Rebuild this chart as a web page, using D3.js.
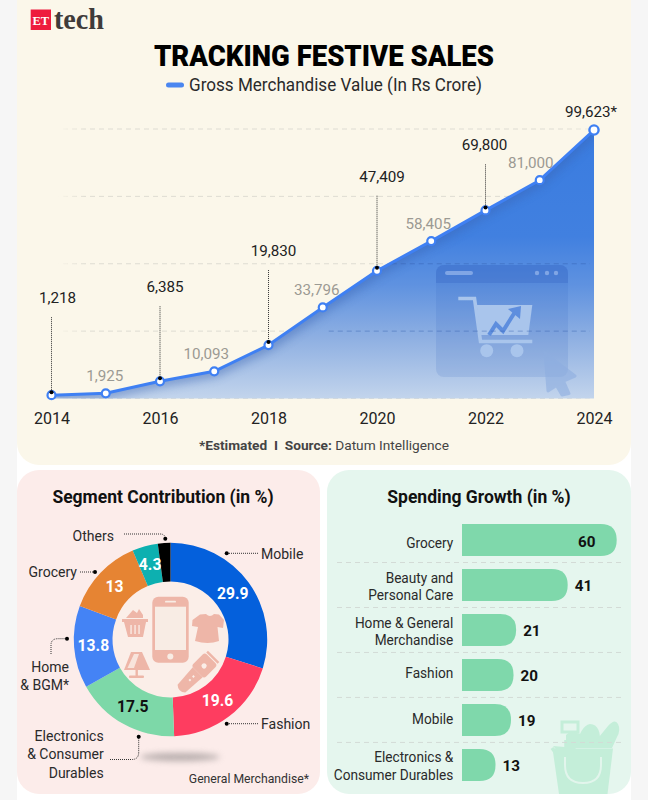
<!DOCTYPE html>
<html><head><meta charset="utf-8">
<script src="https://cdn.jsdelivr.net/npm/d3@7"></script>
<style>
html,body{margin:0;padding:0;background:#fff}
svg{display:block}
text{font-family:Roboto,"Noto Sans",sans-serif}
</style></head><body>
<svg id="c" width="648" height="800"></svg>
<script>
// ---------- data ----------
const years = [2014,2015,2016,2017,2018,2019,2020,2021,2022,2023,2024];
const gmv = [1218,1925,6385,10093,19830,33796,47409,58405,69800,81000,99623];
const gmvLabels = ["1,218","1,925","6,385","10,093","19,830","33,796","47,409","58,405","69,800","81,000","99,623*"];
const gridTicks = [0,25000,50000,75000,100000];
const yearTicks = [2014,2016,2018,2020,2022,2024];

const segments = ["Mobile","Fashion","Electronics & Consumer Durables","Home & BGM*","Grocery","Others","Unlabelled"];
const segmentValues = [29.9,19.6,17.5,13.8,13,4.3,2.1];
const segmentValueLabels = ["29.9","19.6","17.5","13.8","13","4.3",""];

const growthCategories = ["Grocery","Beauty and|Personal Care","Home & General|Merchandise","Fashion","Mobile","Electronics &|Consumer Durables"];
const growthValues = [60,41,21,20,19,13];

// ---------- layout / style (not data) ----------
const segmentColors = ["#0460dc","#fe3d60","#7dd8a8","#4483f5","#e68433","#0db0b0","#000000"];
const segmentTextColors = ["#fff","#fff","#111","#fff","#fff","#fff","#fff"];
const lift = [92,0,89,0,89,0,89,0,60,0,13];
const greyLift = 12;
const labelNudge = [6,-1,5,-8,5,-6,5,-3,-1,-9,-3];
const singleLineNudge = [7.5,0,0,3.5,4,0];

const svg = d3.select("#c");
const defs = svg.append("defs");
const blur = (id,s)=>defs.append("filter").attr("id",id).attr("x","-30%").attr("y","-100%").attr("width","160%").attr("height","300%")
  .append("feGaussianBlur").attr("stdDeviation",s);
blur("b5",5);blur("b3",3);

// page backgrounds
svg.append("rect").attr("width",17).attr("height",800).attr("fill","#f6f6f6");
svg.append("rect").attr("x",631).attr("width",17).attr("height",800).attr("fill","#f6f6f6");
svg.append("rect").attr("x",17).attr("y",-30).attr("width",614).attr("height",495).attr("rx",22).attr("fill","#fbf7ea");
svg.append("rect").attr("x",17).attr("y",470).attr("width",303).attr("height",324).attr("rx",22).attr("fill","#fcecea");
svg.append("rect").attr("x",327).attr("y",470).attr("width",304).attr("height",324).attr("rx",22).attr("fill","#e5f6ee");

function sq(sel,f){sel.each(function(){const n=this;n.setAttribute("textLength",n.getComputedTextLength()*f);n.setAttribute("lengthAdjust","spacingAndGlyphs");});return sel;}
function txt(x,y,s,size,o={}){
  const t=svg.append("text").attr("x",x).attr("y",y).attr("font-size",size).attr("fill",o.fill||"#2a2a2a")
    .attr("font-weight",o.w||400).attr("text-anchor",o.a||"start").text(s);
  if(o.ff)t.style("font-family",o.ff);
  sq(t,o.sq||0.905);return t;
}

// logo
svg.append("rect").attr("x",30.7).attr("y",9.5).attr("width",20.3).attr("height",20.5).attr("fill","#ee1c3e");
txt(40.8,25,"ET",12.5,{fill:"#fff",w:700,a:"middle",ff:"'Liberation Serif',serif",sq:1});
svg.append("text").attr("x",54).attr("y",29).attr("font-size",29).attr("font-weight",700).attr("fill","#3f3b3a")
  .style("font-family","'Liberation Serif',serif").attr("textLength",50).attr("lengthAdjust","spacingAndGlyphs").text("tech");

// title + legend
svg.append("text").attr("x",324).attr("y",66).attr("text-anchor","middle").attr("font-size",30).attr("font-weight",900)
  .attr("fill","#000").attr("textLength",340).attr("lengthAdjust","spacingAndGlyphs").text("TRACKING FESTIVE SALES");
svg.append("line").attr("x1",168.5).attr("x2",181.5).attr("y1",85).attr("y2",85).attr("stroke","#4a86f0").attr("stroke-width",5).attr("stroke-linecap","round");
svg.append("text").attr("x",189).attr("y",91).attr("font-size",18.5).attr("fill","#2a2a2a").attr("textLength",293).attr("lengthAdjust","spacingAndGlyphs").text("Gross Merchandise Value (In Rs Crore)");

// ---------- area chart ----------
const x = d3.scaleLinear().domain([2014,2024]).range([51.5,594]);
const y = d3.scaleLinear().domain([0,100000]).range([398.5,129]);
const pts = years.map((yr,i)=>({yr,v:gmv[i],label:gmvLabels[i],i}));

const grad = defs.append("linearGradient").attr("id","ag").attr("gradientUnits","userSpaceOnUse").attr("x1",0).attr("x2",0).attr("y1",129).attr("y2",398);
[[0,"#3a7ce0"],[0.4,"#4180e0"],[0.58,"#5f92e0"],[0.78,"#8fb0e2"],[1,"#c2d4ec"]].forEach(s=>grad.append("stop").attr("offset",s[0]).attr("stop-color",s[1]));
const area = d3.area().x(d=>x(d.yr)).y0(y(0)).y1(d=>y(d.v));
const line = d3.line().x(d=>x(d.yr)).y(d=>y(d.v));
defs.append("clipPath").attr("id","ac").append("path").attr("d",area(pts));
const gridFade = defs.append("linearGradient").attr("id","gf").attr("gradientUnits","userSpaceOnUse").attr("x1",58).attr("x2",590).attr("y1",0).attr("y2",0);
[[0,"#dedcd2",0],[0.05,"#dedcd2",1],[0.95,"#dedcd2",1],[1,"#dedcd2",.4]].forEach(s=>gridFade.append("stop").attr("offset",s[0]).attr("stop-color",s[1]).attr("stop-opacity",s[2]));

// grid (drawn as thin rects so the gradient applies on a horizontal line)
svg.append("g").selectAll("rect").data(gridTicks).join("rect")
  .attr("x",58).attr("width",532).attr("y",d=>y(d)-.5).attr("height",1)
  .attr("fill","url(#gf)").attr("mask","url(#dash)");
const mask=defs.append("mask").attr("id","dash").attr("maskUnits","userSpaceOnUse").attr("x",0).attr("y",0).attr("width",648).attr("height",500);
const dashPat=defs.append("pattern").attr("id","dp").attr("patternUnits","userSpaceOnUse").attr("width",9).attr("height",10);
dashPat.append("rect").attr("width",5).attr("height",10).attr("fill","#fff");
mask.append("rect").attr("width",648).attr("height",500).attr("fill","url(#dp)");

svg.append("path").attr("d",area(pts)).attr("fill","url(#ag)");
svg.append("path").attr("d",line(pts)).attr("fill","none").attr("stroke","#3a64b0").attr("stroke-width",12).attr("opacity",.45).attr("filter","url(#b5)").attr("clip-path","url(#ac)");

// watermark
const wm = svg.append("g");
wm.append("rect").attr("x",436).attr("y",265).attr("width",132).attr("height",112).attr("rx",8).attr("fill","#2f62c0").attr("opacity",.14);
wm.append("path").attr("d","M436 283V273a8 8 0 0 1 8-8h116a8 8 0 0 1 8 8v10z").attr("fill","#2f5fc0").attr("opacity",.28);
wm.append("rect").attr("x",445).attr("y",271).attr("width",28).attr("height",4).attr("rx",2).attr("fill","#8fb0ea").attr("opacity",.8);
[537,547,556].forEach(cx=>wm.append("circle").attr("cx",cx).attr("cy",273).attr("r",2.2).attr("fill","#8fb0ea").attr("opacity",.8));
const cartC="#a9c5ec";
wm.append("path").attr("d","M458.3 298.5H474.5L480.5 341.5H532.3").attr("fill","none").attr("stroke",cartC).attr("stroke-width",3.6);
wm.append("path").attr("d","M476.7 305H532.3L528.3 335H480.5z").attr("fill",cartC);
wm.append("circle").attr("cx",486.7).attr("cy",350.7).attr("r",6.5).attr("fill",cartC);
wm.append("circle").attr("cx",517).attr("cy",350.7).attr("r",6.5).attr("fill",cartC);
wm.append("path").attr("d","M489 335L496 324L503 331L515 312").attr("fill","none").attr("stroke","#5e8ede").attr("stroke-width",4);
wm.append("path").attr("d","M508 309L521 306L520 319z").attr("fill","#5e8ede");
wm.append("path").attr("d","M545 353L575 376L563.5 381L569 393.5L562 395L556.5 385.5L548 391z").attr("fill","#8eaee0").attr("stroke","#8eaee0").attr("stroke-width",3).attr("stroke-linejoin","round").attr("opacity",.6);
// grid faint over the area
svg.append("g").selectAll("line").data(gridTicks.slice(1,3)).join("line")
  .attr("x1",x(2019)+6).attr("x2",590).attr("y1",d=>y(d)).attr("y2",d=>y(d))
  .attr("stroke","#2f58a8").attr("stroke-opacity",.4).attr("stroke-dasharray","5 4").attr("clip-path","url(#ac)");

// line + leaders
svg.append("path").attr("d",line(pts)).attr("fill","none").attr("stroke","#3f80f3").attr("stroke-width",3).attr("stroke-linejoin","round");
const major = pts.filter(d=>lift[d.i]>0 && d.i<10);
svg.append("g").selectAll("line").data(major).join("line")
  .attr("x1",d=>x(d.yr)).attr("x2",d=>x(d.yr)).attr("y1",d=>y(d.v)-lift[d.i]+14).attr("y2",d=>y(d.v)-3)
  .attr("stroke","#333").attr("stroke-width",1).attr("stroke-dasharray","1 1");
svg.append("g").selectAll("circle").data(pts).join("circle")
  .attr("cx",d=>x(d.yr)).attr("cy",d=>y(d.v)).attr("r",d=>d.i===10?4.6:4)
  .attr("fill","#fff").attr("stroke","#3f80f3").attr("stroke-width",d=>d.i===10?2.4:2.2);
svg.append("g").selectAll("circle").data(major).join("circle")
  .attr("cx",d=>x(d.yr)).attr("cy",d=>y(d.v)-3).attr("r",2).attr("fill","#000");

// value labels
pts.forEach(d=>{
  const isMajor=lift[d.i]>0;
  txt(x(d.yr)+labelNudge[d.i],y(d.v)-(isMajor?lift[d.i]:greyLift),d.label,15.5,{a:"middle",fill:isMajor?"#222":"#9b9a93",sq:.98});
});

// x axis
const ax = svg.append("g").attr("transform","translate(0,410)").call(d3.axisBottom(x).tickValues(yearTicks).tickFormat(d3.format("d")).tickSize(0).tickPadding(3));
ax.select(".domain").remove();
ax.selectAll("text").attr("font-size",16).attr("fill","#222").style("font-family","Roboto,sans-serif");

// footer
const ft=svg.append("text").attr("x",324).attr("y",450).attr("text-anchor","middle").attr("font-size",13.5).attr("fill","#444").attr("textLength",250).attr("lengthAdjust","spacingAndGlyphs");
ft.append("tspan").attr("font-weight",700).text("*Estimated\u00a0\u00a0I\u00a0\u00a0Source: ");
ft.append("tspan").text("Datum Intelligence");

// ---------- donut ----------
txt(163,503,"Segment Contribution (in %)",17.5,{a:"middle",w:700,fill:"#111",sq:1});
svg.append("ellipse").attr("cx",180).attr("cy",757).attr("rx",40).attr("ry",4).attr("fill","#8a8484").attr("opacity",.6).attr("filter","url(#b3)");
const pie=d3.pie().sort(null).value(d=>d)(segmentValues);
const arc=d3.arc().innerRadius(58).outerRadius(96.7);
const dg=svg.append("g").attr("transform","translate(170.5,639.5)");
dg.append("circle").attr("r",58).attr("fill","#fbeee8");
dg.selectAll("path").data(pie).join("path").attr("d",arc).attr("fill",(d,i)=>segmentColors[i]);
pie.forEach((d,i)=>{
  const c=arc.centroid(d);
  if(segmentValueLabels[i]) txt(170.5+c[0],639.5+c[1]+5.5,segmentValueLabels[i],16,{a:"middle",w:700,fill:segmentTextColors[i],sq:.98});
});

// donut icons
const ic="#eeb6a8", ib=svg.append("g");
ib.append("rect").attr("x",152.3).attr("y",596.7).attr("width",36.4).attr("height",66).attr("rx",6).attr("fill",ic);
ib.append("rect").attr("x",155).attr("y",606.7).attr("width",31).attr("height",43.3).attr("fill","#f8ece4");
ib.append("rect").attr("x",165).attr("y",600.8).attr("width",11).attr("height",1.8).attr("rx",.9).attr("fill","#f8ece4");
ib.append("circle").attr("cx",170.3).attr("cy",656.5).attr("r",3).attr("fill","#f8ece4");
ib.append("path").attr("d","M200 614.5L206 614Q210 618 214 614L219 614.5L224 620L223 628L217.5 627L219 641Q208 645 195 641L198 627L192 626L192.5 620z").attr("fill",ic); // shirt
ib.append("path").attr("d","M124 622H146L143 637H128z").attr("fill",ic); // basket
ib.append("path").attr("d","M122 619H148V622H122z M126 618L133 610L137 613L139 609L143 615L143 618z").attr("fill",ic);
[131,135,139].forEach(px=>ib.append("rect").attr("x",px-.6).attr("y",625).attr("width",1.3).attr("height",9).attr("fill","#fbeee8"));
ib.append("path").attr("d","M131 652H142L150 670H124z").attr("fill",ic); // lamp
ib.append("path").attr("d","M134 654H139L134 668H127.5z").attr("fill","#f8e4dc");
ib.append("rect").attr("x",135.5).attr("y",670).attr("width",2.4).attr("height",6).attr("fill",ic);
ib.append("rect").attr("x",129).attr("y",675.5).attr("width",15).attr("height",2.4).attr("rx",1).attr("fill",ic);
ib.append("g").attr("transform","translate(197,673) rotate(45)").call(g=>{ // trimmer
  g.append("rect").attr("x",-9).attr("y",-20).attr("width",18).attr("height",19).attr("rx",3).attr("fill",ic);
  g.append("path").attr("d","M-7 -1H7L5.5 22Q0 27 -5.5 22z").attr("fill",ic);
  g.append("circle").attr("cy",-10).attr("r",2.6).attr("fill","#fbeee8");
  g.append("rect").attr("x",-8).attr("y",-23.5).attr("width",16).attr("height",2.4).attr("fill",ic);
  g.append("rect").attr("x",-1).attr("y",4).attr("width",2).attr("height",2).attr("fill","#fbeee8");
  g.append("rect").attr("x",-1).attr("y",9).attr("width",2).attr("height",2).attr("fill","#fbeee8");
});

// donut labels + leaders
const leader=(d)=>svg.append("path").attr("d",d).attr("fill","none").attr("stroke","#333").attr("stroke-width",1).attr("stroke-dasharray","1 1");
const dot=(cx,cy)=>svg.append("circle").attr("cx",cx).attr("cy",cy).attr("r",2).attr("fill","#000");
txt(261,558.7,"Mobile",15.5,{}); leader("M227 553.3H258"); dot(226.7,553.3);
txt(261,728.7,"Fashion",15.5,{}); leader("M227 723.7H258"); dot(226.7,723.7);
txt(114,541,"Others",15.5,{a:"end"}); leader("M124 534H160Q165 534 165 538"); dot(165.3,538.7);
txt(77,576.7,"Grocery",15.5,{a:"end"}); leader("M80 572H95"); dot(95,572);
txt(69,672,"Home",15.5,{a:"end"}); txt(69,690,"& BGM*",15.5,{a:"end"}); leader("M51 654V645Q51 638.7 58 638.7H67"); dot(67,638.7);
txt(103.7,740.7,"Electronics",15.5,{a:"end"}); txt(103.7,759,"& Consumer",15.5,{a:"end"}); txt(103.7,777.7,"Durables",15.5,{a:"end"});
leader("M110 759.5H132Q138.7 759.5 138.7 752V737"); dot(138.7,736.7);
txt(309,782.7,"General Merchandise*",13.5,{a:"end",fill:"#333"});

// ---------- bars ----------
txt(479,503,"Spending Growth (in %)",17.5,{a:"middle",w:700,fill:"#111",sq:1});
const bx=d3.scaleLinear().domain([0,60]).range([462,616.7]);
const by=d3.scaleBand().domain(growthCategories).range([524,781]).paddingInner(.286);
const seps=growthCategories.slice(0,-1);

// bag watermark (behind)
const bag=svg.append("g"), bc="#c4eed9";
bag.append("path").attr("d","M552 748L561 760M566 740V752").attr("stroke",bc).attr("stroke-width",3.5);
bag.append("path").attr("d","M553 746L576 748L566 760z").attr("fill",bc);
bag.append("path").attr("d","M562 722H578V732H562z").attr("fill","none").attr("stroke",bc).attr("stroke-width",3);
bag.append("path").attr("d","M566 748V735Q570 730 577 733L585 735V748z").attr("fill",bc);
bag.append("path").attr("d","M576 748Q580 726 590 724Q602 724 600 748z").attr("fill",bc);
bag.append("path").attr("d","M590 748L608 726Q615 718 618 724Q621 730 617 737L612 748z").attr("fill",bc);
bag.append("path").attr("d","M552.5 748.5H613L607.5 794H559z").attr("fill",bc);
bag.append("path").attr("d","M565 757V765Q565 783 583 783Q601 783 601 765V757").attr("fill","none").attr("stroke","#e2f5ec").attr("stroke-width",2);

svg.append("g").selectAll("line").data(seps).join("line")
  .attr("x1",337).attr("x2",622).attr("y1",d=>by(d)+by.bandwidth()+6.4).attr("y2",d=>by(d)+by.bandwidth()+6.4)
  .attr("stroke","#d3dbd6").attr("stroke-dasharray","5 4");
const rr=16;
svg.append("g").selectAll("path").data(growthValues).join("path")
  .attr("fill","#7fd8ab")
  .attr("d",(v,i)=>{const t=by(growthCategories[i]),h=by.bandwidth(),r=bx(v);
    return `M${bx(0)} ${t}H${r-rr}Q${r} ${t} ${r} ${t+rr}Q${r} ${t+h} ${r-rr} ${t+h}H${bx(0)}z`;});
growthValues.forEach((v,i)=>{
  const t=by(growthCategories[i])+by.bandwidth()/2;
  if(v===60) txt(bx(v)-30,t+7,String(v),15.5,{a:"middle",w:700,fill:"#111",sq:.98});
  else txt(bx(v)+7,t+6,String(v),15.5,{w:700,fill:"#111",sq:.98});
  const parts=growthCategories[i].split("|");
  parts.forEach((p,j)=>txt(453.3,t+(parts.length===1?singleLineNudge[i]:(j===0?-2.5:15)),p,15,{a:"end",sq:.91}));
});
</script>
</body></html>
